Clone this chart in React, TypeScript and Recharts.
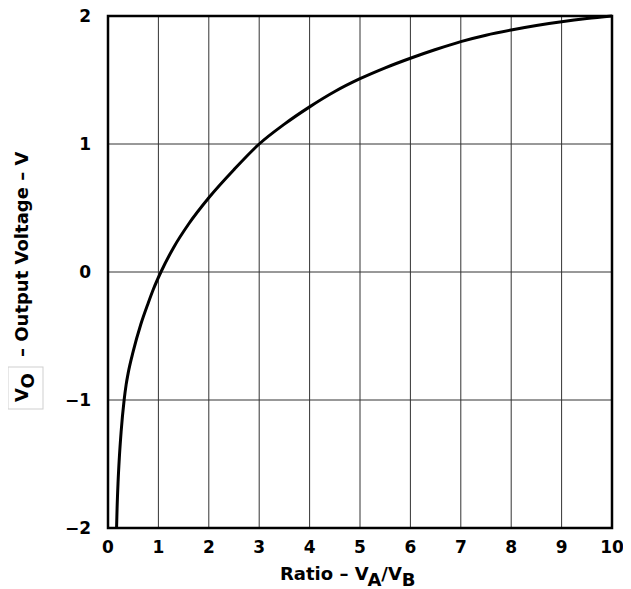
import React from 'react';
import { LineChart, Line, XAxis, YAxis, CartesianGrid, ReferenceArea } from 'recharts';

const ratio = [0.17, 0.18, 0.2, 0.225, 0.26, 0.32, 0.36, 0.4, 0.5, 0.65, 0.8, 0.9, 1.05, 1.3, 1.6, 2, 2.5, 3, 3.5, 4, 4.5, 5, 5.5, 6, 6.5, 7, 7.5, 8, 8.5, 9, 9.5, 10];
const vout = [-2.0, -1.85, -1.64, -1.45, -1.25, -1.0, -0.88, -0.79, -0.62, -0.41, -0.24, -0.135, 0, 0.19, 0.375, 0.58, 0.8, 1.0, 1.155, 1.29, 1.41, 1.51, 1.595, 1.67, 1.738, 1.8, 1.85, 1.89, 1.925, 1.955, 1.98, 2.0];
const xTicks = [0, 1, 2, 3, 4, 5, 6, 7, 8, 9, 10];
const yTicks = [-2, -1, 0, 1, 2];

const data = ratio.map((r, i) => ({ r, v: vout[i] }));

const FONT = '"DejaVu Sans", sans-serif';

const XLabel = (props: any) => {
  const vb = props.viewBox || { x: 100, y: 528, width: 504, height: 55 };
  return (
    <text x={vb.x + 172} y={vb.y + 52} fontFamily={FONT} fontWeight="bold" fontSize={18} fill="#000">
      Ratio – V
      <tspan dy={6}>A</tspan>
      <tspan dy={-6}>/V</tspan>
      <tspan dy={6}>B</tspan>
    </text>
  );
};

const YLabel = (props: any) => {
  const vb = props.viewBox || { x: 0, y: 16, width: 100, height: 512 };
  const tx = vb.x + 20;
  const ty = vb.y + 393;
  return (
    <g transform={`translate(${tx}, ${ty}) rotate(-90)`}>
      <rect x={0} y={-20} width={42} height={35} fill="none" stroke="#cfcfcf" strokeWidth={1} />
      <text x={7} y={0} fontFamily={FONT} fontWeight="bold" fontSize={18} fill="#000">
        V<tspan dy={6}>O</tspan>
      </text>
      <text x={52} y={0} fontFamily={FONT} fontWeight="bold" fontSize={18} fill="#000">
        – Output Voltage – V
      </text>
    </g>
  );
};

export default function App() {
  return (
    <div style={{ marginTop: -8 }}>
      <LineChart
        width={615}
        height={589}
        data={data}
        margin={{ top: 16, right: 11, bottom: 6, left: 0 }}
      >
        <CartesianGrid stroke="#333" strokeWidth={1} />
        <XAxis
          dataKey="r"
          type="number"
          domain={[0, 10]}
          ticks={xTicks}
          interval={0}
          axisLine={false}
          tickLine={false}
          tickSize={0}
          tickMargin={13}
          height={55}
          tick={{ fontFamily: FONT, fontWeight: 'bold', fontSize: 17, fill: '#000' }}
          label={<XLabel />}
        />
        <YAxis
          type="number"
          domain={[-2, 2]}
          ticks={yTicks}
          interval={0}
          axisLine={false}
          tickLine={false}
          tickSize={0}
          tickMargin={17}
          width={100}
          tickFormatter={(v: number) => String(v).replace('-', '\u2212')}
          tick={{ fontFamily: FONT, fontWeight: 'bold', fontSize: 17, fill: '#000' }}
          label={<YLabel />}
        />
        <Line
          type="monotone"
          dataKey="v"
          stroke="#000"
          strokeWidth={3}
          dot={false}
          isAnimationActive={false}
        />
        <ReferenceArea x1={0} x2={10} y1={-2} y2={2} fill="none" fillOpacity={0} stroke="#000" strokeWidth={2.5} ifOverflow="visible" />
      </LineChart>
    </div>
  );
}
